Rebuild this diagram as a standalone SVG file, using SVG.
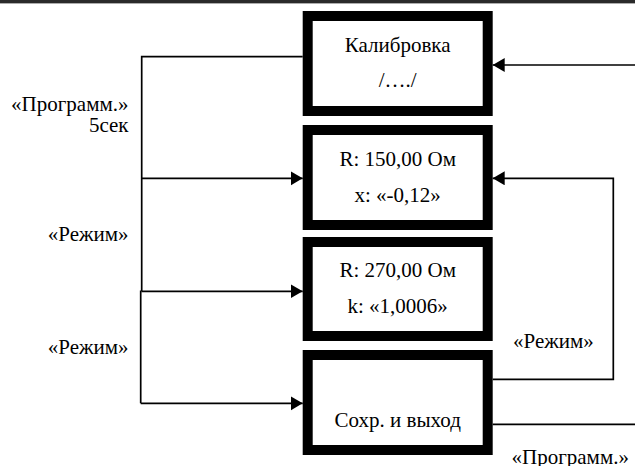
<svg xmlns="http://www.w3.org/2000/svg" width="635" height="466" viewBox="0 0 635 466">
  <style>
    .box { fill: #fff; stroke: #000; stroke-width: 10; }
    .mid { text-anchor: middle; }
    .end { text-anchor: end; }
    .wire { fill: none; stroke: #000; stroke-width: 1.7; }
  </style>
  <defs>
    <marker id="arr" markerUnits="userSpaceOnUse" markerWidth="14" markerHeight="16" refX="12" refY="7" orient="auto">
      <path d="M0,0 L12,7 L0,14 Z" fill="#000"/>
    </marker>
  </defs>

  <rect width="635" height="466" fill="#fff"/>
  <!-- top rule -->
  <rect x="0" y="0" width="635" height="3" fill="#2a2a2a"/>
  <rect x="0" y="3" width="635" height="0.8" fill="#999"/>

  <g id="connectors">
    <!-- left bus -->
    <polyline class="wire" points="302.7,56.7 141.7,56.7 141.7,291.3"/>
    <polyline class="wire" points="141.7,291.3 140.7,291.3 140.7,403.3"/>
    <line class="wire" x1="141.7" y1="178.3" x2="302.7" y2="178.3" marker-end="url(#arr)"/>
    <line class="wire" x1="141.7" y1="291.3" x2="302.7" y2="291.3" marker-end="url(#arr)"/>
    <line class="wire" x1="140.7" y1="403.3" x2="302.7" y2="403.3" marker-end="url(#arr)"/>
    <!-- right side -->
    <line class="wire" x1="635" y1="65" x2="492.7" y2="65" marker-end="url(#arr)"/>
    <polyline class="wire" points="492.7,379.3 613.3,379.3 613.3,178.3 492.7,178.3" marker-end="url(#arr)"/>
    <line class="wire" x1="492.7" y1="424.3" x2="635" y2="424.3"/>
  </g>

  <g font-family="Liberation Serif, Times New Roman, serif" font-size="21" fill="#000">
    <g id="calibration">
      <rect class="box" x="307.7" y="16" width="180" height="95"/>
      <text class="mid" x="397.7" y="52">Калибровка</text>
      <text class="mid" x="397.7" y="87">/…./</text>
    </g>

    <g id="r150">
      <rect class="box" x="307.7" y="130" width="180" height="95"/>
      <text class="mid" x="397.7" y="166">R: 150,00 Ом</text>
      <text class="mid" x="397.7" y="202">x: «-0,12»</text>
    </g>

    <g id="r270">
      <rect class="box" x="307.7" y="242" width="180" height="94"/>
      <text class="mid" x="397.7" y="277">R: 270,00 Ом</text>
      <text class="mid" x="397.7" y="313">k: «1,0006»</text>
    </g>

    <g id="save-exit">
      <rect class="box" x="307.7" y="355" width="180" height="95"/>
      <text class="mid" x="397.7" y="427">Сохр. и выход</text>
    </g>

    <g id="labels">
      <text class="end" x="128.5" y="110.5">«Программ.»</text>
      <text class="end" x="128.5" y="132">5сек</text>
      <text class="end" x="128.5" y="241">«Режим»</text>
      <text class="end" x="128.5" y="354">«Режим»</text>
      <text x="513" y="348">«Режим»</text>
      <text x="511.5" y="463.5">«Программ.»</text>
    </g>
  </g>
</svg>
